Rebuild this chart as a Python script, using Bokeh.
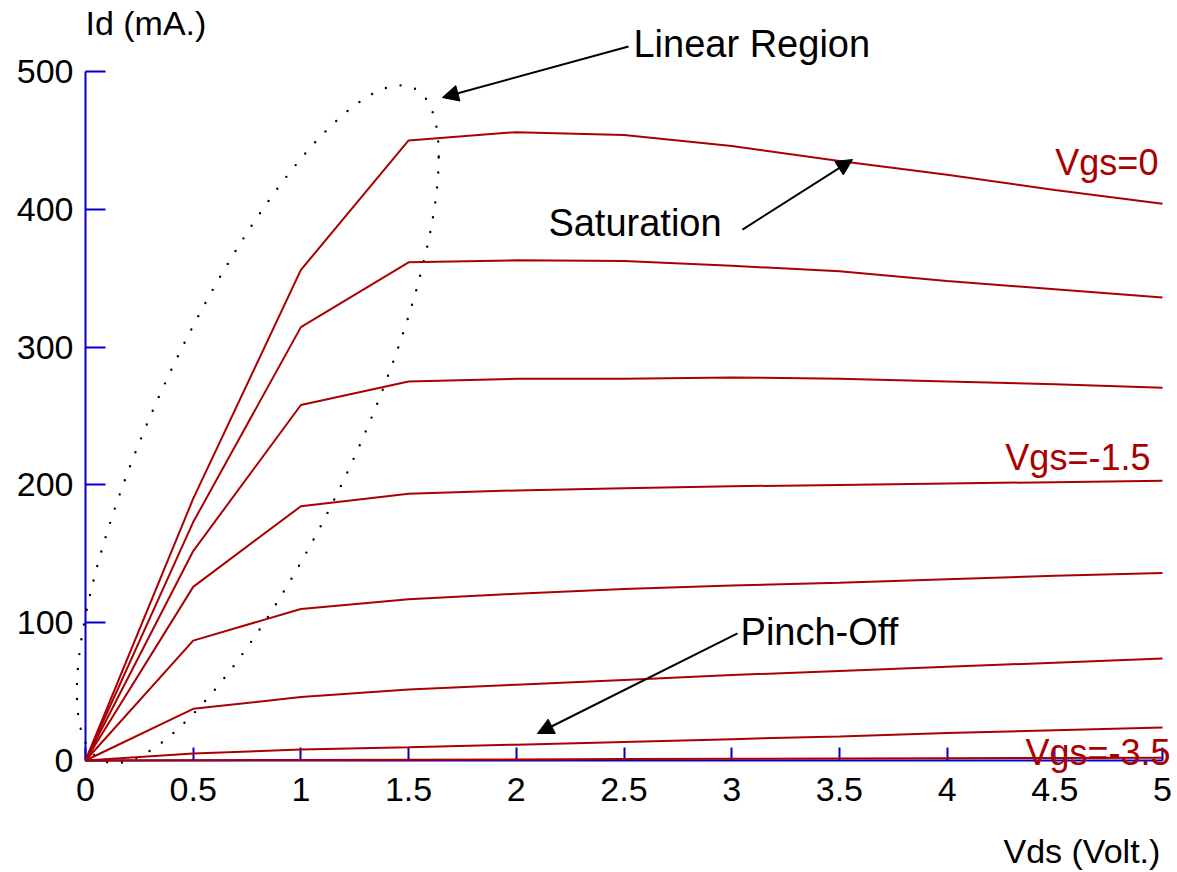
from bokeh.plotting import figure
from bokeh.models import (Range1d, FixedTicker, Label, Arrow, NormalHead,
                          NumeralTickFormatter, LinearAxis)
from bokeh.embed import file_html
from bokeh.resources import INLINE
import numpy as np

# ---- data ----
vds = [0, 0.5, 1, 1.5, 2, 2.5, 3, 3.5, 4, 4.5, 5]
id_vgs_0 = [0, 190, 356, 450, 456, 454, 446, 435, 425, 414, 404]
id_vgs_m05 = [0, 173, 314.5, 361.5, 363, 362.5, 359, 355, 348, 342, 336]
id_vgs_m1 = [0, 152, 258, 275, 277, 277, 278, 277, 275, 273, 270.5]
id_vgs_m15 = [0, 126, 184.5, 193.5, 196, 197.5, 199, 200, 201, 202, 203]
id_vgs_m2 = [0, 87, 110, 117, 121, 124.5, 127, 129, 131.5, 134, 136]
id_vgs_m25 = [0, 37.5, 46, 51.5, 55, 58.5, 62, 65, 68, 71, 74]
id_vgs_m3 = [0, 5, 8, 9.7, 11.5, 13.5, 15.5, 17.5, 20, 22, 24]
id_vgs_m35 = [0, 0.2, 0.4, 0.6, 0.8, 1.0, 1.2, 1.4, 1.6, 1.8, 2.0]
curves = [id_vgs_0, id_vgs_m05, id_vgs_m1, id_vgs_m15,
          id_vgs_m2, id_vgs_m25, id_vgs_m3, id_vgs_m35]

x_ticks = [0, 0.5, 1, 1.5, 2, 2.5, 3, 3.5, 4, 4.5, 5]
y_ticks = [0, 100, 200, 300, 400, 500]

curve_labels = ["Vgs=0", "Vgs=-1.5", "Vgs=-3.5"]
curve_label_x = [4.981, 4.944, 5.037]
curve_label_y = [434, 220, 5.8]

# dotted ellipse marking the linear region (center, axes)
ell_cx, ell_cy = 0.80, 244.0
ell_ax = 0.84
ell_b1, ell_b2 = 194.3, 150.8

RED = "#aa0000"
BLUE = "#0000c8"
FONT = "Liberation Sans"

# ---- layout: frame covers whole canvas, axes fixed at the data origin ----
W, H = 1177, 872
X0_PX, X5_PX = 85, 1162      # pixel columns of Vds = 0 and 5
Y0_PX, Y500_PX = 760, 71     # pixel rows of Id = 0 and 500
sx = (X5_PX - X0_PX) / 5.0
sy = (Y0_PX - Y500_PX) / 500.0
x_range = Range1d(-X0_PX / sx, 5 + (W - X5_PX) / sx)
y_range = Range1d(-(H - Y0_PX) / sy, 500 + Y500_PX / sy)

p = figure(width=W, height=H, x_range=x_range, y_range=y_range,
           output_backend="svg", toolbar_location=None,
           x_axis_location=None, y_axis_location=None,
           min_border=0, min_border_left=0, min_border_right=0,
           min_border_top=0, min_border_bottom=0)
p.grid.visible = False
p.outline_line_color = None
p.background_fill_color = "white"
p.border_fill_color = "white"

xaxis = LinearAxis(fixed_location=0, bounds=(0, 5), ticker=FixedTicker(ticks=x_ticks))
yaxis = LinearAxis(fixed_location=0, bounds=(0, 500), ticker=FixedTicker(ticks=y_ticks))
for ax in (xaxis, yaxis):
    ax.axis_line_color = BLUE
    ax.axis_line_width = 2
    ax.major_tick_line_color = BLUE
    ax.major_tick_line_width = 2
    ax.minor_tick_line_color = None
    ax.major_tick_out = 0
    ax.major_label_text_font = FONT
    ax.major_label_text_font_size = "34px"
    ax.major_label_text_color = "black"
    ax.formatter = NumeralTickFormatter(format="0.[0]")
    ax.level = "underlay"
xaxis.major_tick_in = 13
yaxis.major_tick_in = 20
xaxis.major_label_standoff = 17
yaxis.major_label_standoff = 12
p.add_layout(xaxis, "below")
p.add_layout(yaxis, "left")

t = np.linspace(0, 2 * np.pi, 400)
ex = ell_cx + ell_ax * np.cos(t)
ey = ell_cy + ell_b1 * np.cos(t) + ell_b2 * np.sin(t)
p.line(ex, ey, line_color="black", line_width=2.4, line_dash="0 15", line_cap="round")

for ys in curves:
    p.line(vds, ys, line_color=RED, line_width=2)

for txt, x, y in zip(curve_labels, curve_label_x, curve_label_y):
    p.add_layout(Label(x=x, y=y, text=txt, text_align="right", text_baseline="alphabetic",
                       text_color=RED, text_font=FONT, text_font_size="36px"))

# axis titles
p.add_layout(Label(x=0, y=535, text="Id (mA.)", text_align="left", text_baseline="middle",
                   text_font=FONT, text_font_size="34px", text_color="black"))
p.add_layout(Label(x=4.99, y=-66, text="Vds (Volt.)", text_align="right", text_baseline="middle",
                   text_font=FONT, text_font_size="34px", text_color="black"))

# region annotations
notes = [("Linear Region", 2.544, 520, 2.521, 518.1, 1.657, 481.1),
         ("Saturation", 2.149, 390.4, 3.050, 385.3, 3.561, 436.1),
         ("Pinch-Off", 3.041, 92.9, 3.027, 92.2, 2.098, 19.6)]
for txt, tx, ty, xs, ys, xe, ye in notes:
    p.add_layout(Label(x=tx, y=ty, text=txt, text_align="left", text_baseline="middle",
                       text_font=FONT, text_font_size="38px", text_color="black"))
    p.add_layout(Arrow(x_start=xs, y_start=ys, x_end=xe, y_end=ye, line_width=2,
                       line_color="black",
                       end=NormalHead(size=16, fill_color="black", line_color="black")))

open("out.html", "w").write(file_html(p, INLINE))
